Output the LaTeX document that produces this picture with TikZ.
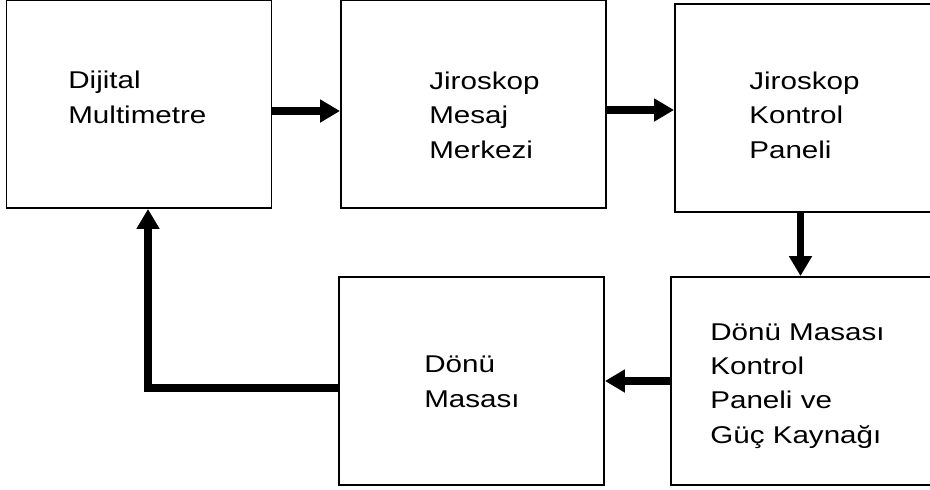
\documentclass[tikz,border=0pt]{standalone}
\usepackage{fontspec}
\setmainfont{Liberation Sans}[FakeStretch=1.22]
\usetikzlibrary{arrows.meta}
\begin{document}
\begin{tikzpicture}[x=0.02cm, y=-0.02cm,
    blok/.style={draw, line width=1.1pt, minimum width=5.3cm, minimum height=4.16cm, inner sep=0pt},
    yazi/.style={anchor=base west, align=left, inner sep=0pt, font=\fontsize{13.8}{19.5}\selectfont},
    ok/.style={line width=4pt, -{Triangle[length=11.4pt, width=12.5pt]}}]
    \useasboundingbox (0,0) rectangle (930,490);
    \node[blok] (dmm) at (139,104) {};
    \node[blok] (mesaj) at (473.5,104) {};
    \node[blok] (kontrol) at (807.5,108) {};
    \node[blok] (guc) at (803.5,381) {};
    \node[blok] (masa) at (471.5,381) {};
    \node[yazi] (dmm-t) at (68,123) {Dijital\\Multimetre};
    \node[yazi] (mesaj-t) at (429,158) {Jiroskop\\Mesaj\\Merkezi};
    \node[yazi] (kontrol-t) at (749,158) {Jiroskop\\Kontrol\\Paneli};
    \node[yazi] (guc-t) at (710,443) {Dönü Masası\\Kontrol\\Paneli ve\\Güç Kaynağı};
    \node[yazi] (masa-t) at (424,407) {Dönü\\Masası};
    \draw[ok] ([shift={(0,7)}]dmm.east) -- ([shift={(0,7)}]mesaj.west);
    \draw[ok] ([shift={(0,6)}]mesaj.east) -- ([shift={(0,2)}]kontrol.west);
    \draw[ok] ([shift={(-7,0)}]kontrol.south) -- ([shift={(-3,0)}]guc.north);
    \draw[ok] (guc.west) -- (masa.east);
    \draw[ok] ([shift={(0,7)}]masa.west) -| ([shift={(9,0)}]dmm.south);
\end{tikzpicture}
\end{document}
